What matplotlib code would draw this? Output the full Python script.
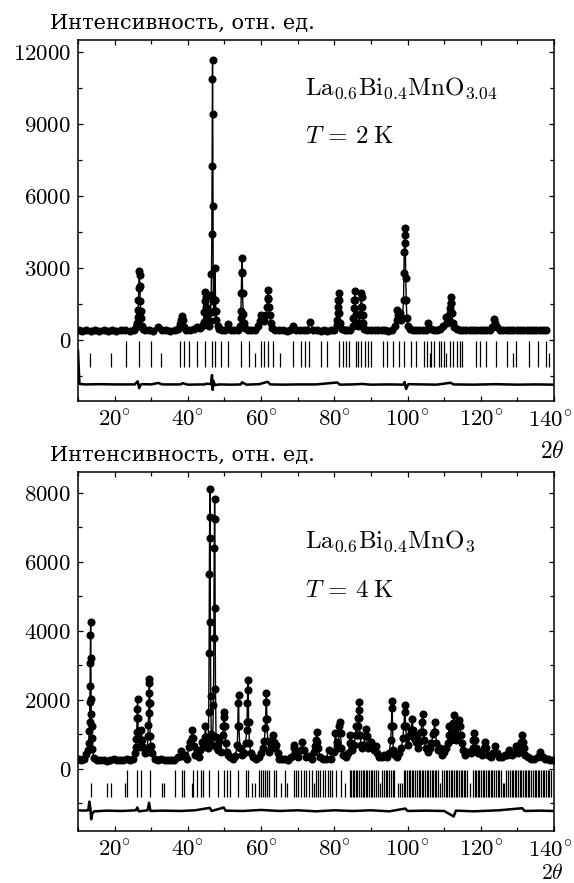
import matplotlib
matplotlib.use("Agg")
import matplotlib.pyplot as plt
from matplotlib.ticker import MultipleLocator, FuncFormatter

plt.rcParams["mathtext.fontset"] = "cm"
plt.rcParams["font.family"] = "serif"
plt.rcParams["axes.unicode_minus"] = False

# ---- top panel: La0.6Bi0.4MnO3.04, T = 2 K ----
x_top = [10.3, 11.2, 12.3, 13.5, 14.6, 15.8, 17.0, 18.2, 19.4, 20.5, 21.7, 22.9, 24.1, 25.2,
         25.9, 26.1, 26.3, 26.4, 26.5, 26.6, 26.7, 26.8, 26.9, 27.0, 27.1, 27.2, 27.4, 27.7,
         28.4, 29.5, 30.6, 31.9, 33.0, 34.1, 35.2, 36.4, 37.4, 37.9, 38.2, 38.4, 38.6, 38.9,
         39.5, 40.6, 41.6, 42.4, 43.2, 44.0, 44.3, 44.5, 44.7, 44.8, 44.9, 45.0, 45.2, 45.5,
         45.8, 46.1, 46.2, 46.35, 46.45, 46.55, 46.62, 46.68, 46.74, 46.8, 46.86, 46.95, 47.05,
         47.2, 47.35, 47.45, 47.55, 47.65, 47.8, 48.1, 48.6, 49.4, 50.2, 51.0, 51.8, 52.7, 53.6,
         54.2, 54.4, 54.5, 54.6, 54.7, 54.75, 54.85, 54.95, 55.1, 55.3, 55.7, 56.4, 57.3, 58.3,
         59.2, 59.7, 60.0, 60.4, 60.9, 61.3, 61.6, 61.8, 61.9, 62.0, 62.2, 62.4, 62.7, 63.1,
         63.8, 64.8, 65.9, 67.0, 67.9, 68.7, 69.5, 70.6, 71.6, 72.5, 73.4, 74.2, 75.3, 76.3,
         77.2, 78.1, 79.1, 80.0, 80.6, 80.8, 80.9, 81.0, 81.1, 81.2, 81.3, 81.4, 81.6, 82.0,
         82.8, 83.6, 84.4, 85.0, 85.2, 85.4, 85.5, 85.6, 85.7, 85.85, 86.1, 86.4, 86.7, 87.0,
         87.2, 87.35, 87.45, 87.55, 87.7, 87.85, 88.2, 89.0, 90.1, 91.0, 91.9, 92.9, 93.8, 94.8,
         95.8, 96.6, 97.0, 97.2, 97.5, 97.9, 98.3, 98.6, 98.9, 99.0, 99.1, 99.2, 99.3, 99.4,
         99.5, 99.65, 99.8, 100.1, 100.6, 101.4, 102.3, 103.2, 104.1, 105.0, 105.7, 106.4,
         107.3, 108.1, 108.9, 109.8, 110.4, 110.9, 111.3, 111.5, 111.65, 111.75, 111.85, 111.95,
         112.1, 112.3, 112.7, 113.4, 114.3, 115.2, 116.1, 117.0, 117.9, 118.8, 119.7, 120.6,
         121.5, 122.4, 123.1, 123.6, 124.0, 124.5, 125.3, 126.2, 127.1, 128.0, 128.9, 129.8,
         130.7, 131.6, 132.5, 133.4, 134.3, 135.2, 136.1, 137.0, 137.9]
y_top = [420, 380, 410, 390, 400, 380, 410, 390, 400, 380, 410, 430, 390, 420,
         520, 700, 950, 1250, 1660, 2150, 2880, 2700, 2250, 1600, 1200, 900, 600, 450,
         400, 410, 390, 530, 420, 400, 390, 410, 460, 650, 830, 1000, 830, 550,
         420, 400, 450, 530, 480, 560, 760, 1180, 1600, 2010, 1800, 1390, 970, 650,
         560, 800, 1170, 1870, 2750, 4410, 7240, 10860, 11650, 9400, 5580, 1620, 1170,
         1200, 1650, 3000, 1650, 1200, 830, 600, 450, 420, 430, 670, 430, 400, 420,
         600, 900, 1200, 1970, 2820, 3430, 2800, 1950, 1100, 700, 500, 430, 410, 430,
         560, 780, 1040, 900, 780, 1040, 1390, 1740, 2080, 1700, 1390, 1040, 700, 500,
         430, 400, 420, 390, 420, 580, 420, 400, 430, 420, 760, 430, 400, 390,
         410, 380, 400, 420, 620, 830, 1110, 1390, 1660, 1940, 1660, 1110, 700, 450,
         420, 400, 430, 600, 900, 1320, 1660, 2050, 1660, 1100, 700, 560, 700, 1040,
         1390, 1940, 1800, 1390, 1040, 690, 450, 420, 400, 430, 400, 410, 420, 390,
         430, 560, 830, 1250, 1040, 1110, 830, 900, 1650, 2770, 3680, 4370, 4650, 4020,
         2570, 1650, 900, 600, 450, 420, 400, 410, 430, 420, 720, 450,
         430, 410, 440, 560, 970, 700, 830, 1110, 1320, 1530, 1800, 1530,
         1110, 700, 520, 450, 420, 400, 410, 420, 400, 410, 430, 410,
         420, 430, 520, 860, 700, 520, 430, 410, 420, 400, 410, 430,
         410, 400, 420, 410, 420, 400, 410, 420, 400]

bragg_top_long = [23.0, 26.7, 29.9, 37.8, 38.9, 40.2, 42.5, 44.7, 46.7, 47.5, 49.1, 51.0, 54.6,
                  56.6, 59.9, 60.9, 61.9, 63.3, 68.7, 70.9, 72.0, 73.2, 76.4, 78.0, 81.2, 82.3,
                  83.1, 84.0, 85.8, 86.4, 87.2, 88.4, 89.2, 90.1, 93.4, 94.3, 96.0, 97.7, 99.0,
                  100.9, 102.4, 104.5, 105.4, 106.3, 107.2, 108.6, 109.2, 110.0, 111.5, 112.5,
                  113.6, 114.2, 115.0, 118.7, 119.8, 121.4, 124.1, 127.3, 129.6, 133.3, 135.5,
                  137.8]
bragg_top_short = [13.4, 18.9, 32.8, 58.4, 65.2, 106.0, 110.6, 128.9, 138.6]

x_diff_top = [10.0, 10.4, 12.0, 16.0, 20.0, 25.5, 26.3, 26.7, 27.1, 27.6, 30.0, 31.9, 33.0,
              38.0, 38.6, 40.0, 44.5, 45.2, 46.3, 46.6, 46.8, 47.0, 47.4, 48.5, 52.0, 54.5,
              54.8, 56.0, 59.5, 61.8, 62.5, 66.0, 70.0, 75.0, 80.8, 81.5, 85.0, 87.5, 90.0,
              95.0, 98.8, 99.2, 99.6, 100.2, 104.0, 108.0, 111.8, 112.5, 118.0, 124.0,
              130.0, 135.0, 140.0]
y_diff_top = [-450, -1830, -1850, -1840, -1850, -1850, -1720, -2010, -1860, -1840, -1850,
              -1790, -1850, -1850, -1800, -1860, -1850, -1820, -1840, -1460, -2080, -1700,
              -1880, -1850, -1860, -1850, -1760, -1860, -1840, -1740, -1850, -1860, -1850,
              -1850, -1770, -1860, -1850, -1830, -1860, -1850, -1860, -1750, -2040, -1840,
              -1850, -1860, -1780, -1850, -1860, -1840, -1860, -1850, -1860]

# ---- bottom panel: La0.6Bi0.4MnO3, T = 4 K ----
x_bot = [10.3, 10.9, 11.6, 12.2, 12.6, 12.9, 13.05, 13.15, 13.25, 13.3, 13.35, 13.4, 13.45,
         13.5, 13.55, 13.6, 13.7, 13.8, 13.95, 14.3, 15.1, 16.0, 17.0, 17.9, 18.8, 19.7, 20.6,
         21.5, 22.4, 23.3, 24.2, 25.0, 25.5, 25.8, 25.95, 26.05, 26.15, 26.2, 26.25, 26.35,
         26.5, 26.8, 27.1, 27.3, 27.5, 27.8, 28.4, 28.9, 29.1, 29.2, 29.3, 29.35, 29.4, 29.45,
         29.5, 29.6, 29.7, 29.9, 30.2, 31.0, 31.9, 32.8, 33.7, 34.6, 35.5, 36.3, 37.3, 38.0,
         38.5, 39.1, 39.7, 40.3, 40.6, 41.0, 41.2, 41.4, 41.6, 42.0, 42.5, 43.0, 43.4, 43.8,
         44.2, 44.6, 44.8, 45.1, 45.4, 45.55, 45.7, 45.8, 45.88, 45.95, 46.02, 46.08, 46.15,
         46.25, 46.4, 46.6, 46.8, 47.0, 47.1, 47.2, 47.3, 47.38, 47.45, 47.55, 47.7, 47.9,
         48.2, 48.6, 49.0, 49.5, 49.7, 49.85, 49.95, 50.1, 50.3, 50.6, 51.0, 51.5, 52.2, 53.0,
         53.5, 53.65, 53.75, 53.85, 53.95, 54.2, 54.8, 55.3, 55.8, 56.05, 56.15, 56.25, 56.35,
         56.45, 56.6, 56.8, 57.2, 57.8, 58.5, 59.3, 60.0, 60.5, 60.9, 61.1, 61.25, 61.35,
         61.45, 61.6, 61.8, 62.2, 62.7, 63.0, 63.2, 63.4, 63.7, 64.1, 64.5, 65.0, 65.8, 66.6,
         67.4, 68.3, 68.9, 69.1, 69.4, 70.0, 70.8, 71.3, 71.6, 72.2, 73.0, 73.8, 74.5, 74.8,
         75.0, 75.2, 75.4, 75.6, 76.2, 77.0, 77.8, 78.5, 79.2, 79.9, 80.3, 80.6, 81.0, 81.3,
         81.4, 81.5, 81.7, 81.9, 82.5, 83.2, 83.8, 84.2, 84.4, 84.6, 84.9, 85.4, 85.8, 86.0,
         86.3, 86.5, 86.6, 86.7, 86.75, 86.85, 87.0, 87.3, 87.6, 88.0, 88.4, 88.6, 88.8, 89.1,
         89.6, 89.9, 90.3, 90.9, 91.3, 91.7, 92.3, 93.0, 93.7, 94.3, 95.0, 95.4, 95.6, 95.7,
         95.8, 95.9, 96.1, 96.6, 97.2, 97.8, 98.3, 98.7, 99.0, 99.2, 99.3, 99.45, 99.7, 100.2,
         100.6, 101.0, 101.3, 101.5, 101.8, 102.2, 102.4, 102.8, 103.3, 103.7, 103.9, 104.1,
         104.3, 104.6, 105.0, 105.5, 106.0, 106.5, 107.0, 107.2, 107.4, 107.6, 107.9, 108.3,
         108.8, 109.3, 109.9, 110.5, 111.0, 111.2, 111.4, 111.6, 111.9, 112.3, 112.5, 112.7,
         112.9, 113.2, 113.6, 113.9, 114.1, 114.3, 114.5, 114.8, 115.2, 115.8, 116.5, 117.2,
         117.8, 118.0, 118.2, 118.4, 118.7, 119.2, 119.6, 120.2, 120.8, 121.2, 121.5, 122.0,
         122.7, 123.4, 123.9, 124.4, 125.0, 125.8, 126.5, 127.3, 127.8, 128.4, 129.1, 129.6,
         130.1, 130.7, 131.1, 131.3, 131.5, 131.7, 132.2, 133.0, 133.8, 134.6, 135.5, 136.3,
         136.9, 137.6, 138.3, 139.0, 139.8]
y_bot = [300, 260, 280, 420, 560, 750, 1100, 1350, 1930, 2410, 3070, 3870, 4250,
         3210, 2020, 1590, 1230, 890, 570, 310, 270, 250, 270, 240, 260, 280, 250,
         270, 260, 280, 270, 290, 460, 630, 860, 1080, 1470, 1720, 2030, 1470,
         860, 630, 840, 1130, 840, 630, 460, 500, 960, 1280, 1620, 1910, 2190, 2490,
         2600, 1910, 960, 670, 450, 300, 270, 280, 260, 250, 270, 260, 330, 530,
         360, 400, 300, 630, 790, 890, 1130, 890, 670, 400, 530, 350, 550, 790,
         620, 930, 1230, 800, 600, 700, 1650, 3360, 5650, 7300, 8120, 6680, 4250,
         2100, 1000, 700, 930, 1860, 3790, 6400, 7830, 7230, 4660, 2320, 930, 600,
         560, 800, 500, 990, 1230, 1500, 1640, 1230, 750, 500, 400, 350, 300, 380,
         700, 1250, 1910, 2150, 1250, 600, 400, 450, 750, 1130, 1370, 1910, 2290,
         2560, 1370, 750, 450, 330, 280, 350, 450, 600, 820, 1180, 1440, 1950,
         2190, 1440, 820, 500, 600, 790, 990, 790, 600, 700, 450, 300, 280, 300,
         270, 350, 600, 700, 450, 350, 550, 790, 550, 350, 380, 300, 500, 650,
         840, 1080, 790, 600, 350, 280, 300, 550, 300, 500, 1030, 790, 600, 1030,
         1230, 1370, 1030, 600, 400, 350, 450, 750, 990, 750, 550, 700, 990, 1250,
         990, 1230, 1470, 1710, 1950, 1470, 990, 700, 600, 700, 940, 1150, 940, 600,
         650, 790, 600, 550, 670, 450, 350, 330, 400, 350, 450, 840, 1230, 1760,
         1980, 1230, 550, 400, 350, 450, 600, 890, 1230, 1640, 1860, 1230, 890, 700,
         990, 1130, 1450, 1130, 900, 990, 770, 600, 800, 1080, 1370, 1600,
         1080, 840, 600, 500, 600, 750, 1000, 1080, 1350, 1080, 750, 550,
         600, 400, 500, 600, 750, 990, 1230, 990, 840, 1080, 1330, 1570,
         1080, 840, 990, 1230, 1420, 1230, 990, 750, 550, 400, 500, 450,
         600, 840, 1050, 840, 600, 450, 500, 400, 600, 790, 600, 400,
         350, 450, 670, 450, 350, 330, 400, 400, 550, 400, 450, 650,
         450, 500, 790, 990, 790, 600, 400, 330, 300, 280, 330, 500,
         330, 280, 300, 270, 270]

bragg_bot_long = [23.5, 26.2, 27.2, 29.6, 36.5, 38.3, 39.0, 41.5, 42.6, 43.5, 44.2, 45.9, 48.1,
                  49.9, 50.6, 51.5, 53.8, 55.9, 56.5, 59.5, 60.0, 60.6, 61.1, 61.6, 62.2, 63.4,
                  64.0, 66.4, 69.1, 69.5, 70.2, 70.9, 71.6, 72.2, 73.0, 73.9, 75.0, 75.6, 76.2,
                  76.9, 77.5, 78.2, 78.8, 79.3, 80.5, 81.8, 84.2, 84.6, 85.0, 85.4, 85.9, 86.3,
                  86.8, 87.2, 87.7, 88.1, 88.6, 89.0, 89.5, 90.0, 90.4, 90.9, 91.3, 91.8, 93.0,
                  93.5, 94.0, 94.5, 95.0, 95.5, 96.0, 96.4, 98.9, 99.4, 99.8, 100.3, 100.7,
                  101.2, 101.6, 102.1, 102.5, 103.0, 103.4, 103.9, 104.3, 104.8, 105.2, 105.7,
                  106.1, 106.6, 107.0, 107.5, 107.9, 108.4, 109.5, 110.0, 110.4, 110.9, 111.3,
                  111.8, 112.2, 112.7, 113.1, 113.6, 114.0, 114.5, 114.9, 115.4, 115.8, 116.3,
                  117.8, 118.3, 118.7, 119.2, 119.6, 120.1, 120.5, 121.0, 121.4, 121.9, 122.3,
                  122.8, 123.2, 123.7, 124.1, 124.6, 125.0, 125.5, 127.0, 127.5, 127.9, 128.4,
                  128.8, 129.3, 129.7, 130.2, 130.6, 131.1, 131.5, 132.0, 132.4, 132.9, 133.3,
                  133.8, 134.2, 134.7, 135.1, 135.6, 136.0, 136.5, 136.9, 137.4, 137.8, 138.3,
                  138.7, 139.2]
bragg_bot_short = [13.6, 18.0, 19.1, 22.8, 33.0, 33.5, 41.2, 57.6, 58.4, 65.4, 67.0, 74.4,
                   83.0, 92.4, 97.3, 97.9, 98.4, 109.0, 117.1, 126.0, 126.4]

x_diff_bot = [10.0, 11.5, 12.8, 13.1, 13.4, 13.6, 13.9, 14.4, 18.0, 22.0, 25.8, 26.2, 26.6,
              29.0, 29.4, 29.8, 33.0, 38.0, 42.0, 46.0, 46.5, 49.8, 50.3, 55.0, 60.0, 65.0,
              70.0, 75.0, 80.0, 85.0, 90.0, 95.0, 99.4, 100.0, 105.0, 110.0, 112.6, 113.2,
              118.0, 125.0, 131.3, 132.0, 136.0, 140.0]
y_diff_bot = [-1200, -1210, -1200, -950, -1150, -1460, -1300, -1230, -1210, -1220, -1200,
              -1120, -1230, -1200, -980, -1220, -1210, -1220, -1200, -1130, -1220, -1120,
              -1210, -1220, -1190, -1220, -1200, -1230, -1200, -1220, -1200, -1230, -1150,
              -1220, -1210, -1220, -1380, -1210, -1230, -1200, -1140, -1220, -1210, -1220]

FS = 16.5
W, H = 574, 883


def style_axes(ax, ylo, yhi, ymaj, ymin):
    ax.set_xlim(10, 140)
    ax.set_ylim(ylo, yhi)
    ax.xaxis.set_major_locator(MultipleLocator(20))
    ax.xaxis.set_minor_locator(MultipleLocator(10))
    ax.yaxis.set_major_locator(MultipleLocator(ymaj))
    ax.yaxis.set_minor_locator(MultipleLocator(ymin))
    # the 140° label sits against the figure edge, it is placed by hand below
    ax.xaxis.set_major_formatter(FuncFormatter(lambda v, p: r"$%d^{\circ}$" % v if v < 139 else ""))
    ax.yaxis.set_major_formatter(FuncFormatter(lambda v, p: r"$%d$" % v if v >= 0 else ""))
    ax.tick_params(which="both", direction="in", top=True, right=True, labelsize=FS, width=0.9)
    ax.tick_params(which="major", length=3.5)
    ax.tick_params(which="minor", length=3)
    ax.tick_params(axis="x", pad=6)
    ax.tick_params(axis="y", pad=5)
    for s in ax.spines.values():
        s.set_linewidth(1.1)


def draw_panel(ax, x, y, blong, bshort, tick_top, tick_mid, tick_bot, xd, yd):
    ax.plot(x, y, color="black", lw=1.0, zorder=2)
    ax.plot(x, y, "o", color="black", ms=4.8, zorder=3)
    ax.vlines(blong, tick_bot, tick_top, color="black", lw=0.9)
    ax.vlines(bshort, tick_bot, tick_mid, color="black", lw=0.9)
    ax.plot(xd, yd, color="black", lw=1.8)


fig = plt.figure(figsize=(W / 100, H / 100), dpi=100)
ax1 = fig.add_axes([78 / W, 1 - 401 / H, 476 / W, 361 / H])
ax2 = fig.add_axes([78 / W, 1 - 831 / H, 476 / W, 359 / H])

draw_panel(ax1, x_top, y_top, bragg_top_long, bragg_top_short, -60, -560, -1130,
           x_diff_top, y_diff_top)
style_axes(ax1, -2540, 12480, 3000, 1500)
ax1.text(72.0, 10200, r"$\mathrm{La}_{0.6}\mathrm{Bi}_{0.4}\mathrm{MnO}_{3.04}$", fontsize=18,
         va="baseline")
ax1.text(72.0, 8200, r"$T\,=\,2\;\mathrm{K}$", fontsize=18, va="baseline")

draw_panel(ax2, x_bot, y_bot, bragg_bot_long, bragg_bot_short, -40, -410, -820,
           x_diff_bot, y_diff_bot)
style_axes(ax2, -1800, 8600, 2000, 1000)
ax2.text(72.0, 6400, r"$\mathrm{La}_{0.6}\mathrm{Bi}_{0.4}\mathrm{MnO}_{3}$", fontsize=18,
         va="baseline")
ax2.text(72.0, 4990, r"$T\,=\,4\;\mathrm{K}$", fontsize=18, va="baseline")

ylabel = "Интенсивность, отн. ед."
for base in (29, 461):
    fig.text(50 / W, 1 - base / H, ylabel, fontsize=15, family="DejaVu Serif", va="baseline")

for axis_bottom in (401, 831):
    fig.text(573 / W, 1 - (axis_bottom + 9) / H, r"$140^{\circ}$", fontsize=FS,
             ha="right", va="top")
fig.text(552 / W, 1 - 458 / H, r"$2\theta$", fontsize=17, ha="center", va="baseline")
fig.text(552 / W, 1 - 879 / H, r"$2\theta$", fontsize=15.5, ha="center", va="baseline")

fig.savefig("out.png", dpi=100)
